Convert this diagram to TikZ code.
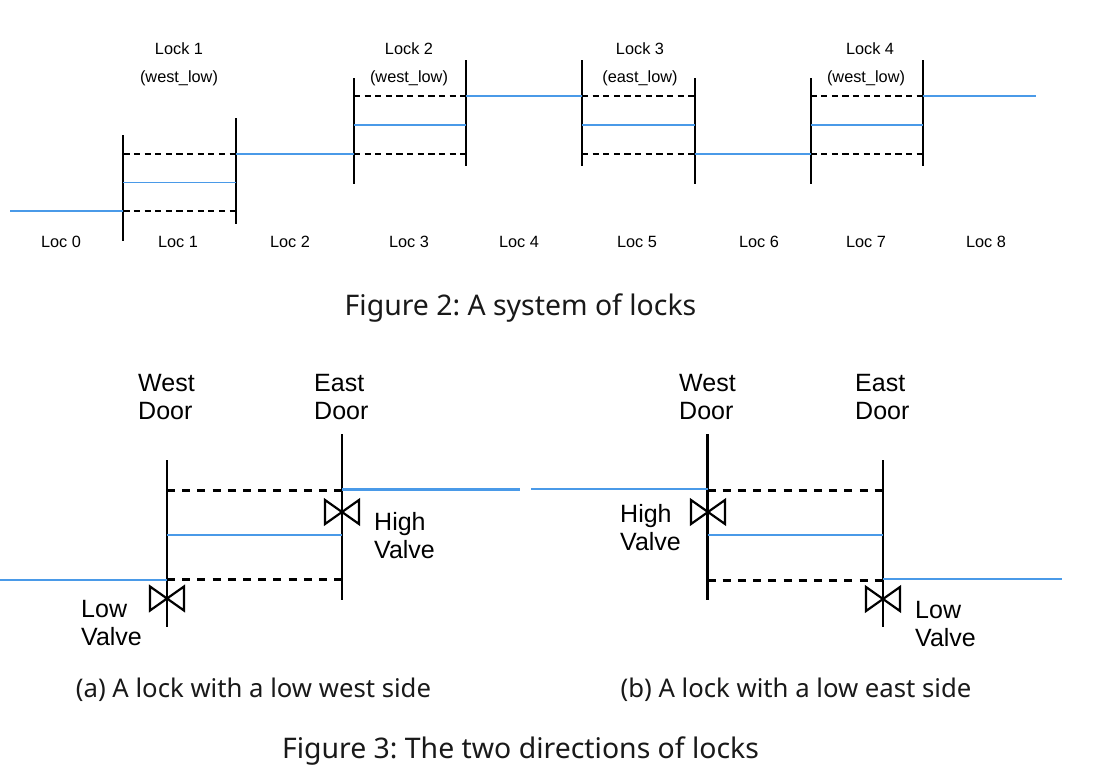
\documentclass[tikz,border=0pt]{standalone}
\usepackage{fontspec}
\setmainfont{Liberation Sans}
\newfontfamily\capfont{Noto Sans}
\definecolor{waterblue}{HTML}{4A9AE8}
\tikzset{
  x=1pt,y=-1pt,
  door/.style={draw=black,line width=2pt},
  bigdoor/.style={draw=black,line width=2.7pt},
  water/.style={draw=waterblue,line width=1.8pt},
  bigwater/.style={draw=waterblue,line width=2.5pt},
  level/.style={draw=black,line width=2.1pt,dash pattern=on 6.2pt off 4.42pt},
  biglevel/.style={draw=black,line width=3pt,dash pattern=on 8pt off 7.2pt},
  small/.style={font=\fontsize{16.3}{19}\selectfont,inner sep=0pt,anchor=center,text=black},
  big/.style={font=\fontsize{25}{27.7}\selectfont,inner sep=0pt,anchor=west,align=left,text=black},
  figcap/.style={font=\capfont\frenchspacing\fontsize{28.4}{32}\selectfont,inner sep=0pt,anchor=center,text=black!90},
  subcap/.style={font=\capfont\frenchspacing\fontsize{25.7}{30}\selectfont,inner sep=0pt,anchor=center,text=black!90},
  valve/.pic={\draw[black,line width=2.2pt,line join=miter] (-17,-12) -- (17,12) -- (17,-12) -- (-17,12) -- cycle;},
}
% name, west x, west top, west bottom, east x, east top, east bottom, high y, low y
\newcommand{\lockpoints}[9]{%
  \pgfmathsetmacro{\midy}{(#8+#9)/2}%
  \coordinate (#1-wt) at (#2,#3); \coordinate (#1-wb) at (#2,#4);
  \coordinate (#1-et) at (#5,#6); \coordinate (#1-eb) at (#5,#7);
  \coordinate (#1-wh) at (#2,#8); \coordinate (#1-eh) at (#5,#8);
  \coordinate (#1-wl) at (#2,#9); \coordinate (#1-el) at (#5,#9);
  \coordinate (#1-wm) at (#2,\midy); \coordinate (#1-em) at (#5,\midy);
}
\newcommand{\smalllock}[1]{%
  \draw[door] (#1-wt) -- (#1-wb);
  \draw[door] (#1-et) -- (#1-eb);
  \draw[level] (#1-wh) -- (#1-eh);
  \draw[level] (#1-wl) -- (#1-el);
  \draw[water] (#1-wm) -- (#1-em);
}
\begin{document}
\begin{tikzpicture}
\useasboundingbox (0,0) rectangle (1094,779);
% --- Figure 2
\lockpoints{A}{123.3}{135}{241}{236}{118}{224}{154}{211}
\lockpoints{B}{354}{78}{184}{466}{60}{166}{96}{154}
\lockpoints{C}{582}{60}{166}{694.5}{78}{184}{96}{154}
\lockpoints{D}{810.5}{78}{184}{923}{60}{166}{96}{154}
\smalllock{A}\smalllock{B}\smalllock{C}\smalllock{D}
\coordinate (s0) at (10,211);
\coordinate (s8) at (1036,96);
\draw[water] (s0) -- (A-wl);
\draw[water] (A-eh) -- (B-wl);
\draw[water] (B-eh) -- (C-wh);
\draw[water] (C-el) -- (D-wl);
\draw[water] (D-eh) -- (s8);
\node[small] (lock1) at (179,48.5) {Lock 1};
\node[small] (lock2) at (409,48.5) {Lock 2};
\node[small] (lock3) at (640,48.5) {Lock 3};
\node[small] (lock4) at (870,48.5) {Lock 4};
\node[small] (dir1) at (179,78) {(west\_low)};
\node[small] (dir2) at (409,78) {(west\_low)};
\node[small] (dir3) at (640,78) {(east\_low)};
\node[small] (dir4) at (866,78) {(west\_low)};
\foreach \i/\x in {0/61,1/178,2/290,3/409,4/519,5/637,6/759,7/866,8/986}{
  \node[small] (loc\i) at (\x,242) {Loc \i};
}
\node[figcap] (fig2) at (520.5,308) {Figure 2: A system of locks};
% --- Figure 3 (a)
\lockpoints{P}{167}{460}{627}{342}{434}{600}{490.5}{579.5}
\draw[bigdoor] (P-wt) -- (P-wb);
\draw[bigdoor] (P-et) -- (P-eb);
\draw[biglevel] (P-wh) -- (P-eh);
\draw[biglevel] (P-wl) -- (P-el);
\draw[water] (P-wm) -- (P-em);
\coordinate (ahiw) at (342,489.5); \coordinate (ahi) at (520,489.5);
\coordinate (alo) at (0,580); \coordinate (aloe) at (167,580);
\draw[bigwater] (ahiw) -- (ahi);
\draw[bigwater] (alo) -- (aloe);
\pic at (342,512) {valve};
\pic at (167,598.5) {valve};
\node[big] (awd) at (138,397) {West\\Door};
\node[big] (aed) at (314,397) {East\\Door};
\node[big] (ahv) at (374,535.5) {High\\Valve};
\node[big] (alv) at (81,623) {Low\\Valve};
\node[subcap] (capa) at (253.5,690) {(a) A lock with a low west side};
% --- Figure 3 (b)
\lockpoints{Q}{707.5}{434}{600}{883}{460}{627}{490}{580}
\draw[bigdoor] (Q-wt) -- (Q-wb);
\draw[bigdoor] (Q-et) -- (Q-eb);
\draw[biglevel] (Q-wh) -- (Q-eh);
\draw[biglevel] (Q-wl) -- (Q-el);
\draw[bigwater] (Q-wm) -- (Q-em);
\coordinate (bhi) at (531,489); \coordinate (bhie) at (707.5,489);
\coordinate (blow) at (883,579); \coordinate (blo) at (1062,579);
\draw[bigwater] (bhi) -- (bhie);
\draw[bigwater] (blow) -- (blo);
\pic at (708,512) {valve};
\pic at (883,599) {valve};
\node[big] (bwd) at (679,397) {West\\Door};
\node[big] (bed) at (855,397) {East\\Door};
\node[big] (bhv) at (620,527.5) {High\\Valve};
\node[big] (blv) at (915,624) {Low\\Valve};
\node[subcap] (capb) at (796,690) {(b) A lock with a low east side};
\node[figcap] (fig3) at (520.5,751) {Figure 3: The two directions of locks};
\end{tikzpicture}
\end{document}
